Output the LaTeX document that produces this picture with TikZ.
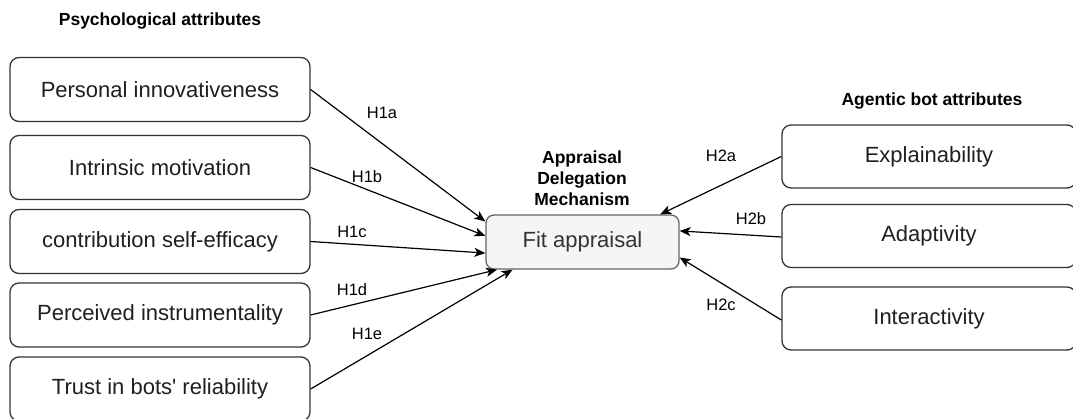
\documentclass[tikz,border=0pt]{standalone}
\usepackage{fontspec}
\setmainfont{Liberation Sans}
\usetikzlibrary{arrows.meta,calc}
\definecolor{boxline}{HTML}{333333}
\definecolor{fitfill}{HTML}{F5F5F5}
\definecolor{fitline}{HTML}{666666}
\definecolor{fittext}{HTML}{333333}
\begin{document}
\begin{tikzpicture}[x=1pt,y=-1pt,
  attr/.style={draw=boxline, line width=1.3pt, rounded corners=9pt,
    minimum height=64pt, inner sep=0pt, text=black!88,
    font=\fontsize{22}{26}\selectfont},
  leftattr/.style={attr, minimum width=300pt},
  rightattr/.style={attr, minimum width=294pt, minimum height=63pt},
  fitbox/.style={draw=fitline, fill=fitfill, line width=1.3pt, rounded corners=8pt,
    minimum width=193pt, minimum height=54pt, inner sep=0pt, text=fittext,
    font=\fontsize{22}{26}\selectfont},
  heading/.style={font=\bfseries\fontsize{17.5}{21}\selectfont, align=center, inner sep=0pt},
  hlabel/.style={font=\fontsize{16.5}{19}\selectfont, inner sep=0pt},
  arr/.style={draw=black, line width=1.2pt, -{Stealth[length=11pt,width=9pt,inset=3pt]}}
]
\useasboundingbox (0,0) rectangle (1073,419);

% group headings
\node[heading] (hpsy) at (160,21) {Psychological attributes};
\node[heading] (hbot) at (932,101) {Agentic bot attributes};
\node[heading] (hmech) at (582,178) {Appraisal\\Delegation\\Mechanism};

% psychological attributes
\node[leftattr] (p1) at (160,89.5) {Personal innovativeness};
\node[leftattr] (p2) at (160,167.5) {Intrinsic motivation};
\node[leftattr] (p3) at (160,241.5) {contribution self-efficacy};
\node[leftattr] (p4) at (160,315) {Perceived instrumentality};
\node[leftattr] (p5) at (160,389) {Trust in bots\textquotesingle{} reliability};

% agentic bot attributes
\node[rightattr] (b1) at (929,156.5) {Explainability};
\node[rightattr] (b2) at (929,236) {Adaptivity};
\node[rightattr] (b3) at (929,318.5) {Interactivity};

% central construct
\node[fitbox] (fit) at (582.5,242) {Fit appraisal};

% arrow end points on the central box
\coordinate (f1) at ($(fit.north west)!0.13!(fit.south west)$);
\coordinate (f2) at ($(fit.north west)!0.39!(fit.south west)$);
\coordinate (f3) at ($(fit.north west)!0.70!(fit.south west)$);
\coordinate (f4) at ($(fit.south west)!0.06!(fit.south east)$);
\coordinate (f5) at ($(fit.south west)!0.14!(fit.south east)$);
\coordinate (f6) at ($(fit.north west)!0.90!(fit.north east)$);
\coordinate (f7) at ($(fit.north east)!0.30!(fit.south east)$);
\coordinate (f8) at ($(fit.north east)!0.78!(fit.south east)$);

% hypotheses
\draw[arr] (p1.east) -- (f1);
\draw[arr] (p2.east) -- (f2);
\draw[arr] (p3.east) -- (f3);
\draw[arr] (p4.east) -- (f4);
\draw[arr] (p5.east) -- (f5);
\draw[arr] (b1.west) -- (f6);
\draw[arr] ([yshift=-1pt]b2.west) -- (f7);
\draw[arr] ([yshift=-1.5pt]b3.west) -- (f8);

% hypothesis labels
\node[hlabel] (l1a) at (382,113) {H1a};
\node[hlabel] (l1b) at (367,177) {H1b};
\node[hlabel] (l1c) at (352,232) {H1c};
\node[hlabel] (l1d) at (352,290) {H1d};
\node[hlabel] (l1e) at (367,334) {H1e};
\node[hlabel] (l2a) at (721,156) {H2a};
\node[hlabel] (l2b) at (751,219) {H2b};
\node[hlabel] (l2c) at (721,305) {H2c};
\end{tikzpicture}
\end{document}
